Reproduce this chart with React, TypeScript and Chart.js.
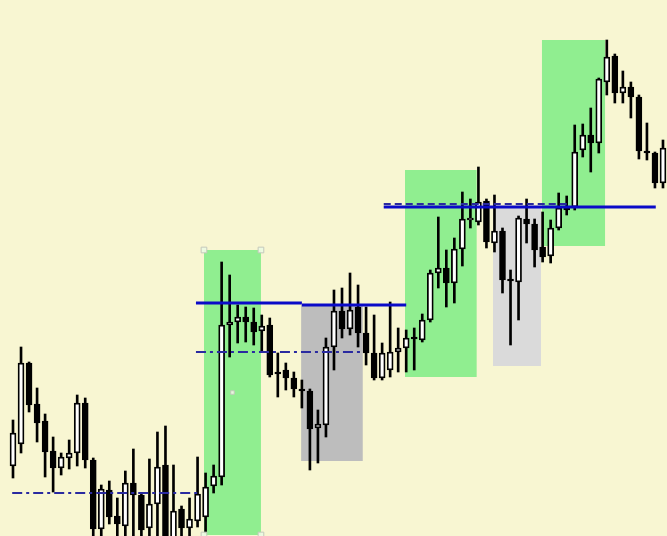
import React, { useEffect, useRef } from "react";
import { Chart, registerables } from "chart.js";

Chart.register(...registerables);

// Candles (price units, higher = up). One entry per bar, in time order.
const opens = [
  70, 92, 173, 132, 115, 85, 68, 78, 83, 133,
  76, 7, 46, 20, 10, 53, 41, 8, 32, 71,
  -4, 27, 8, 15, 19, 50, 59, 211, 214, 219,
  214, 205, 211, 164, 166, 158, 147, 145, 108, 111,
  189, 225, 207, 229, 203, 183, 158, 166, 184, 188,
  199, 196, 216, 263, 268, 253, 287, 316, 314, 335,
  293, 305, 257, 254, 317, 312, 289, 280, 308, 330,
  329, 386, 401, 393, 454, 480, 443, 449, 439, 385,
  383, 353,
];
const highs = [
  116, 189, 174, 148, 122, 99, 83, 96, 141, 138,
  78, 51, 55, 38, 65, 87, 42, 77, 104, 110,
  71, 30, 38, 79, 63, 71, 274, 261, 231, 229,
  228, 221, 218, 183, 173, 164, 156, 147, 126, 198,
  246, 248, 263, 251, 229, 221, 193, 234, 208, 206,
  208, 222, 266, 319, 286, 298, 344, 337, 369, 337,
  341, 308, 266, 320, 337, 317, 324, 316, 343, 340,
  411, 412, 428, 458, 496, 482, 465, 454, 441, 413,
  384, 396,
];
const lows = [
  58, 83, 124, 94, 59, 44, 61, 67, 70, 68,
  -4, -4, 12, -4, -4, -4, -4, -4, -4, -9,
  -9, -4, -4, 9, 3, 43, 51, 179, 193, 194,
  191, 184, 159, 139, 146, 139, 128, 66, 73, 99,
  166, 198, 201, 189, 171, 156, 156, 159, 164, 164,
  166, 194, 214, 248, 229, 233, 270, 308, 311, 288,
  284, 243, 191, 216, 293, 269, 274, 273, 306, 321,
  326, 379, 364, 383, 441, 433, 433, 418, 377, 376,
  348, 348,
];
const closes = [
  103, 173, 131, 113, 84, 68, 79, 83, 133, 76,
  7, 47, 19, 12, 53, 41, 6, 32, 69, -4,
  25, 8, 17, 42, 49, 60, 211, 214, 219, 214,
  204, 210, 161, 162, 158, 147, 145, 107, 112, 189,
  225, 207, 226, 203, 183, 158, 183, 184, 188, 198,
  197, 216, 263, 268, 253, 287, 317, 318, 334, 294,
  305, 256, 255, 318, 312, 286, 279, 308, 328, 326,
  384, 401, 393, 457, 479, 443, 449, 439, 385, 383,
  353, 388,
];

// Rectangles (x in bar-index units, y in price units)
const boxStart = [23.8, 35.9, 48.85, 59.8, 65.9];
const boxEnd = [30.9, 43.6, 57.8, 65.8, 73.8];
const boxTop = [286, 231, 366, 328, 496];
const boxBottom = [1, 75, 159, 170, 290];
const boxColors = ["#90EE90", "#BDBDBD", "#90EE90", "#DADADA", "#90EE90"];

// Horizontal levels
const levelStart = [22.8, 36.0, 46.2, 46.2, 22.8, -0.1];
const levelEnd = [36.0, 49.0, 80.1, 69.2, 43.7, 23.3];
const levelValue = [233, 231, 329, 332, 184, 43];
const levelKind = ["solid", "solid", "solid", "dash", "dashdot", "dashdot"];

// Selected rectangle (first box) shows edit handles
const selectedBox = 0;

const BG = "#F8F6D2";

export default function App() {
  const ref = useRef<HTMLCanvasElement | null>(null);

  useEffect(() => {
    if (!ref.current) return;
    const bull = opens.map((o, i) => closes[i] >= o);

    const boxDatasets = boxStart.map((s, k) => ({
      type: "line" as const,
      data: [
        { x: s, y: boxTop[k] },
        { x: boxEnd[k], y: boxTop[k] },
      ],
      borderWidth: 0,
      borderColor: "rgba(0,0,0,0)",
      backgroundColor: boxColors[k],
      pointRadius: 0,
      fill: { value: boxBottom[k] },
      order: 10,
    }));

    const levelDatasets = levelStart.map((s, k) => {
      const kind = levelKind[k];
      return {
        type: "line" as const,
        data: [
          { x: s, y: levelValue[k] },
          { x: levelEnd[k], y: levelValue[k] },
        ],
        borderColor: kind === "solid" ? "#0A0AC8" : "#2A2AA0",
        borderWidth: kind === "solid" ? 3 : 2,
        borderDash: kind === "dash" ? [7, 4] : kind === "dashdot" ? [10, 4, 3, 4] : [],
        pointRadius: 0,
        fill: false,
        order: kind === "solid" ? -2 : -1,
      };
    });

    const sb = selectedBox;
    const midX = (boxStart[sb] + boxEnd[sb]) / 2;
    const midY = (boxTop[sb] + boxBottom[sb]) / 2;
    const handles = {
      type: "scatter" as const,
      data: [
        { x: boxStart[sb], y: boxTop[sb] },
        { x: boxEnd[sb], y: boxTop[sb] },
        { x: boxStart[sb], y: boxBottom[sb] },
        { x: boxEnd[sb], y: boxBottom[sb] },
        { x: midX, y: midY },
      ],
      pointStyle: "rect",
      pointRadius: [4, 4, 4, 4, 2.5],
      backgroundColor: "rgba(236,250,226,0.95)",
      borderColor: "#C4C8BC",
      borderWidth: 1,
      order: -3,
    };

    const chart = new Chart(ref.current, {
      type: "bar",
      data: {
        datasets: [
          ...boxDatasets,
          {
            type: "bar" as const,
            data: highs.map((h, i) => ({ x: i, y: [lows[i], h] })),
            backgroundColor: "#000000",
            borderWidth: 0,
            barThickness: 2,
            grouped: false,
            order: 1,
          },
          {
            type: "bar" as const,
            data: opens.map((o, i) => ({ x: i, y: [o, closes[i]] })),
            backgroundColor: bull.map((b) => (b ? "#FFFFFF" : "#000000")),
            borderColor: "#000000",
            borderWidth: 1.8,
            borderSkipped: false,
            barThickness: 6,
            grouped: false,
            order: 0,
          },
          ...levelDatasets,
          handles,
        ] as any,
      },
      options: {
        animation: false,
        responsive: false,
        maintainAspectRatio: false,
        layout: { padding: 0, autoPadding: false },
        plugins: {
          legend: { display: false },
          tooltip: { enabled: false },
        },
        scales: {
          x: {
            type: "linear",
            min: -1.62,
            max: 81.5,
            offset: false,
            display: false,
          },
          y: {
            type: "linear",
            min: 0,
            max: 536,
            display: false,
          },
        },
      } as any,
    });
    return () => chart.destroy();
  }, []);

  return (
    <div
      style={{
        position: "fixed",
        left: 0,
        top: 0,
        width: 667,
        height: 536,
        background: BG,
      }}
    >
      <canvas ref={ref} width={667} height={536} style={{ display: "block" }} />
    </div>
  );
}
